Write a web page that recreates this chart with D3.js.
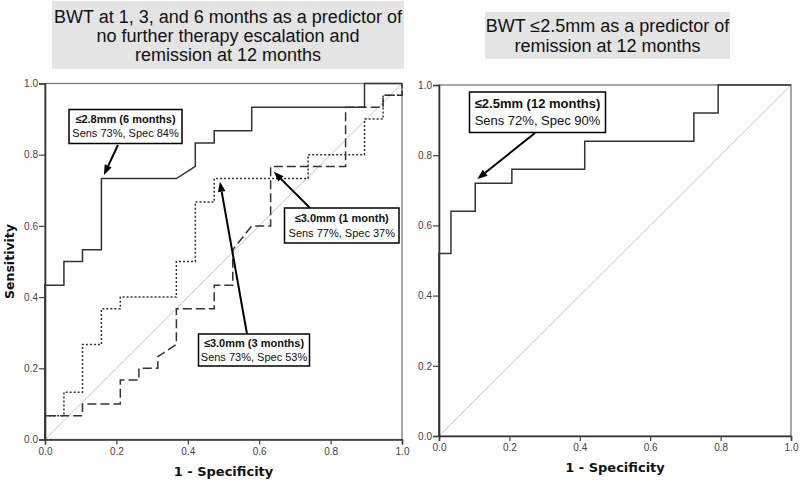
<!DOCTYPE html>
<html>
<head>
<meta charset="utf-8">
<script src="https://cdn.jsdelivr.net/npm/d3@7/dist/d3.min.js"></script>
<style>
  body { margin: 0; background: #fff; }
  svg { display: block; font-family: "Liberation Sans", Arial, sans-serif; }
</style>
</head>
<body>
<svg id="chart" width="800" height="482"></svg>
<script>
// ROC curves (1 - specificity, sensitivity)
var fpr1m = [0, 0, 0.105, 0.105, 0.211, 0.211, 0.263, 0.263, 0.316, 0.316, 0.368, 0.368, 0.474, 0.474, 0.526, 0.526, 0.579, 0.632, 0.632, 0.842, 0.842, 0.947, 0.947, 1, 1];
var tpr1m = [0, 0.067, 0.067, 0.1, 0.1, 0.167, 0.167, 0.2, 0.2, 0.233, 0.267, 0.367, 0.367, 0.433, 0.433, 0.533, 0.6, 0.6, 0.767, 0.767, 0.933, 0.933, 0.967, 0.967, 1];

var fpr3m = [0, 0, 0.053, 0.053, 0.105, 0.105, 0.158, 0.158, 0.211, 0.211, 0.368, 0.368, 0.421, 0.421, 0.474, 0.474, 0.737, 0.737, 0.895, 0.895, 0.947, 0.947, 1, 1];
var tpr3m = [0, 0.067, 0.067, 0.133, 0.133, 0.267, 0.267, 0.367, 0.367, 0.4, 0.4, 0.5, 0.5, 0.667, 0.667, 0.733, 0.733, 0.8, 0.8, 0.9, 0.9, 0.967, 0.967, 1];

var fpr6m = [0, 0, 0.053, 0.053, 0.105, 0.105, 0.158, 0.158, 0.368, 0.421, 0.421, 0.474, 0.474, 0.579, 0.579, 0.895, 0.895, 1];
var tpr6m = [0, 0.433, 0.433, 0.5, 0.5, 0.533, 0.533, 0.733, 0.733, 0.767, 0.833, 0.833, 0.867, 0.867, 0.933, 0.933, 1, 1];

var fpr12m = [0, 0, 0.034, 0.034, 0.103, 0.103, 0.207, 0.207, 0.414, 0.414, 0.724, 0.724, 0.793, 0.793, 1];
var tpr12m = [0, 0.52, 0.52, 0.64, 0.64, 0.72, 0.72, 0.76, 0.76, 0.84, 0.84, 0.92, 0.92, 1, 1];

var tickValues = [0, 0.2, 0.4, 0.6, 0.8, 1.0];

var leftTitle = ["BWT at 1, 3, and 6 months as a predictor of", "no further therapy escalation and", "remission at 12 months"];
var rightTitle = ["BWT \u22642.5mm as a predictor of", "remission at 12 months"];

var svg = d3.select("#chart");

function zip(xs, ys) {
    return xs.map(function (v, i) { return [v, ys[i]]; });
}

/* gray title box with centered lines */
function drawTitle(lines, box, top, lineH, size) {
    svg.append("rect").attr("x", box[0]).attr("y", box[1]).attr("width", box[2]).attr("height", box[3])
        .attr("fill", "#e4e4e4");
    svg.append("g").selectAll("text").data(lines).enter().append("text")
        .attr("x", box[0] + box[2] / 2)
        .attr("y", function (d, i) { return top + i * lineH; })
        .attr("text-anchor", "middle")
        .attr("font-size", size)
        .attr("fill", "#111")
        .text(function (d) { return d; });
}

function drawPanel(p) {
    var x = d3.scaleLinear().domain([0, 1]).range([p.left, p.right]);
    var y = d3.scaleLinear().domain([0, 1]).range([p.bottom, p.top]);
    var g = svg.append("g");

    g.append("rect").attr("x", p.left).attr("y", p.top)
        .attr("width", p.right - p.left).attr("height", p.bottom - p.top)
        .attr("fill", "none").attr("stroke", "#7a7a7a").attr("stroke-width", 1.3);

    // reference diagonal
    g.append("line").attr("x1", x(0)).attr("y1", y(0)).attr("x2", x(1)).attr("y2", y(1))
        .attr("stroke", "#c4c4c4").attr("stroke-width", 1);

    var line = d3.line().x(function (d) { return x(d[0]); }).y(function (d) { return y(d[1]); });
    p.curves.forEach(function (c) {
        g.append("path").attr("d", line(zip(c.fpr, c.tpr)))
            .attr("fill", "none").attr("stroke", "#333").attr("stroke-width", 1.5)
            .attr("stroke-dasharray", c.dash || null);
    });

    var fmt = d3.format(".1f");
    var ax = g.append("g").attr("transform", "translate(0," + p.bottom + ")")
        .call(d3.axisBottom(x).tickValues(tickValues).tickFormat(fmt).tickSize(5).tickPadding(3));
    var ay = g.append("g").attr("transform", "translate(" + p.left + ",0)")
        .call(d3.axisLeft(y).tickValues(tickValues).tickFormat(fmt).tickSize(6).tickPadding(1));
    [ax, ay].forEach(function (a) {
        a.select(".domain").attr("stroke", "#333").attr("stroke-width", 1.6);
        a.selectAll(".tick line").attr("stroke", "#444").attr("stroke-width", 1.2);
        a.selectAll(".tick text").attr("font-family", "'Liberation Sans', Arial, sans-serif")
            .attr("font-size", 10).attr("fill", "#444");
    });

    g.append("text").attr("x", (p.left + p.right) / 2).attr("y", p.bottom + 36)
        .attr("text-anchor", "middle").attr("font-family", "'DejaVu Sans', Verdana, sans-serif")
        .attr("font-weight", "bold").attr("font-size", 13).attr("fill", "#111")
        .text("1 - Specificity");
    if (p.yLabel) {
        g.append("text").attr("transform", "translate(" + (p.left - 31) + "," + ((p.top + p.bottom) / 2) + ") rotate(-90)")
            .attr("text-anchor", "middle").attr("font-family", "'DejaVu Sans', Verdana, sans-serif")
            .attr("font-weight", "bold").attr("font-size", 12.5).attr("fill", "#111")
            .text("Sensitivity");
    }

    p.notes.forEach(function (n) { drawNote(g, x, y, n); });
}

/* boxed annotation with arrow to the cut-off point */
function drawNote(g, x, y, n) {
    var tx = x(n.tip[0]), ty = y(n.tip[1]);
    var sx = n.from[0], sy = n.from[1];
    var ang = Math.atan2(ty - sy, tx - sx);
    var hl = 10, hw = 3.8;
    var bx = tx - hl * Math.cos(ang), by = ty - hl * Math.sin(ang);
    g.append("line").attr("x1", sx).attr("y1", sy).attr("x2", bx).attr("y2", by)
        .attr("stroke", "#000").attr("stroke-width", 2);
    g.append("path")
        .attr("d", "M" + tx + "," + ty +
            "L" + (bx + hw * Math.sin(ang)) + "," + (by - hw * Math.cos(ang)) +
            "L" + (bx - hw * Math.sin(ang)) + "," + (by + hw * Math.cos(ang)) + "Z")
        .attr("fill", "#000");

    g.append("rect").attr("x", n.box[0]).attr("y", n.box[1]).attr("width", n.box[2]).attr("height", n.box[3])
        .attr("fill", "#fff").attr("stroke", "#000").attr("stroke-width", 1.5);
    var cx = n.box[0] + n.box[2] / 2;
    g.append("text").attr("x", cx).attr("y", n.box[1] + n.base[0]).attr("text-anchor", "middle")
        .attr("font-size", n.size).attr("font-weight", "bold").attr("fill", "#111").text(n.lines[0]);
    g.append("text").attr("x", cx).attr("y", n.box[1] + n.base[1]).attr("text-anchor", "middle")
        .attr("font-size", n.size).attr("fill", "#111").text(n.lines[1]);
}

drawTitle(leftTitle, [52, 1, 352, 68], 23, 19, 18);
drawTitle(rightTitle, [485, 12, 245, 47], 32, 20, 18);

drawPanel({
    left: 45, right: 402, top: 83.5, bottom: 439.5, yLabel: true,
    curves: [
        { fpr: fpr1m, tpr: tpr1m, dash: "9,4" },
        { fpr: fpr3m, tpr: tpr3m, dash: "2,2" },
        { fpr: fpr6m, tpr: tpr6m }
    ],
    notes: [
        { lines: ["\u22642.8mm (6 months)", "Sens 73%, Spec 84%"], box: [69, 109.5, 113, 34], base: [13.5, 27.5], size: 11,
          from: [118, 145], tip: [0.165, 0.743] },
        { lines: ["\u22643.0mm (1 month)", "Sens 77%, Spec 37%"], box: [284.5, 208, 114.5, 35], base: [14, 28.5], size: 11,
          from: [310, 208], tip: [0.641, 0.752] },
        { lines: ["\u22643.0mm (3 months)", "Sens 73%, Spec 53%"], box: [198.5, 334, 111, 32], base: [13, 26.5], size: 11,
          from: [247, 334], tip: [0.490, 0.724] }
    ]
});

drawPanel({
    left: 439, right: 791, top: 85, bottom: 436, yLabel: false,
    curves: [{ fpr: fpr12m, tpr: tpr12m }],
    notes: [
        { lines: ["\u22642.5mm (12 months)", "Sens 72%, Spec 90%"], box: [469.5, 92, 136, 40.5], base: [16, 33], size: 13,
          from: [535, 133], tip: [0.109, 0.732] }
    ]
});
</script>
</body>
</html>
